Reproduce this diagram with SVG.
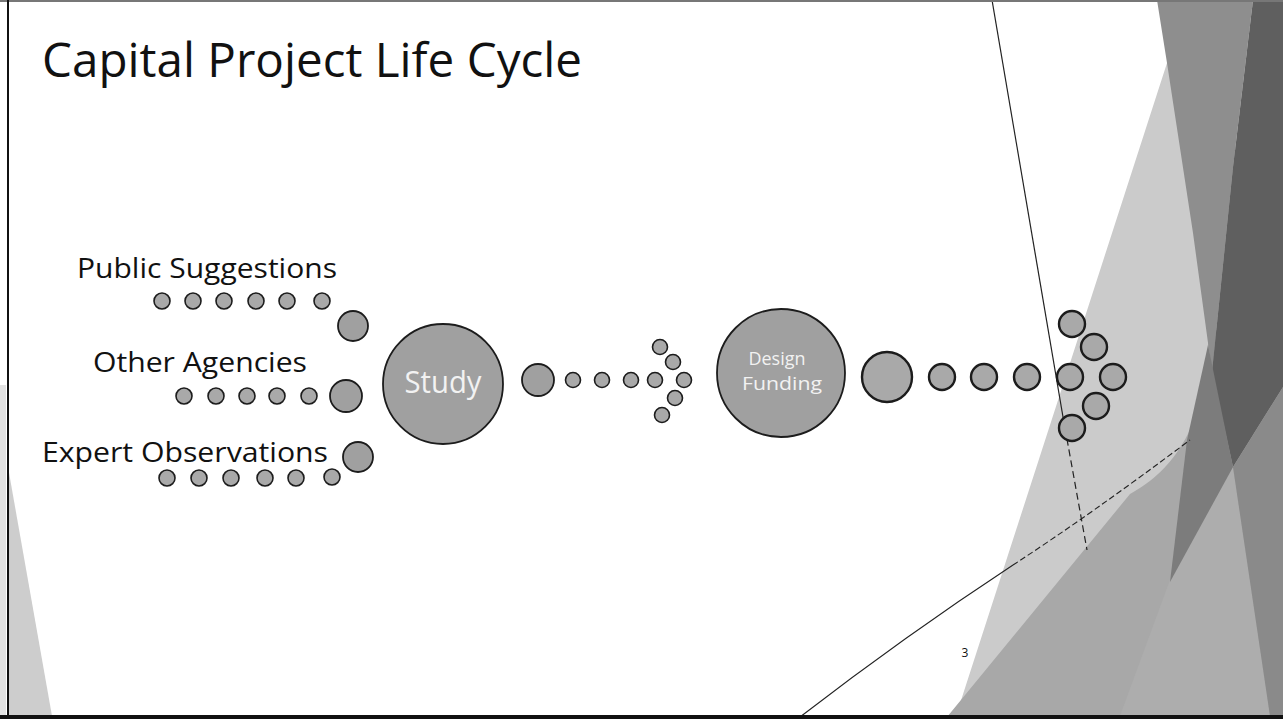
<svg xmlns="http://www.w3.org/2000/svg" width="1283" height="719" viewBox="0 0 1283 719">
  <defs>
    <style>
      .lbl { font-family: "Open Sans", "DejaVu Sans", sans-serif; fill: #111; }
      .dot { fill: #a9a9a9; stroke: #1c1c1c; stroke-width: 1.6; }
      .dotR { fill: #a9a9a9; stroke: #1c1c1c; stroke-width: 2.4; }
      .big { fill: #a0a0a0; stroke: #1c1c1c; stroke-width: 1.8; }
      .inner { font-family: "Open Sans", "DejaVu Sans", sans-serif; fill: #f2f2f2; text-anchor: middle; }
    </style>
  </defs>

  <rect x="0" y="0" width="1283" height="719" fill="#ffffff"/>

  <!-- background decoration -->
  <g id="background">
    <rect x="0" y="385" width="6" height="334" fill="#e2e2e2"/>
    <polygon points="8,467 52,716 8,716" fill="#cdcdcd"/>
    <!-- light facet -->
    <polygon points="1167,63 1235,63 1235,520 1120,520 955,719" fill="#cbcbcb"/>
    <!-- mid gray lower facet -->
    <path d="M947,717 L1130,494 C1175,470 1210,420 1208,330 L1283,330 L1283,717 Z" fill="#a8a8a8"/>
    <!-- lighter lower centre -->
    <polygon points="1170,580 1233,467 1270,716 1120,716" fill="#adadad"/>
    <!-- cross-hatched facet -->
    <polygon points="1157,0 1253,0 1233,167 1212,372 1193,233 1167,63" fill="#8e8e8e"/>
    <!-- darkest facet -->
    <polygon points="1253,0 1283,0 1283,387 1233,467 1212,372 1233,167" fill="#5f5f5f"/>
    <!-- wedge -->
    <polygon points="1208,345 1233,467 1170,582 1187,440" fill="#7c7c7c"/>
    <!-- right dense facet -->
    <polygon points="1283,387 1233,467 1270,716 1283,716" fill="#8a8a8a"/>
    <!-- thin lines -->
    <line x1="992" y1="0" x2="1063" y2="417" stroke="#222" stroke-width="1.2"/>
    <line x1="1063" y1="417" x2="1087" y2="550" stroke="#222" stroke-width="1.2" stroke-dasharray="7,4"/>
    <path d="M800,717 Q905,636 1013,565" fill="none" stroke="#222" stroke-width="1.1"/>
    <path d="M1013,565 Q1090,515 1190,440" fill="none" stroke="#222" stroke-width="1.1" stroke-dasharray="6,3"/>
  </g>

  <!-- frame -->
  <line x1="0" y1="1" x2="1283" y2="1" stroke="#777" stroke-width="2"/>
  <line x1="8" y1="0" x2="8" y2="719" stroke="#111" stroke-width="2"/>
  <line x1="0" y1="717" x2="1283" y2="717" stroke="#111" stroke-width="4"/>

  <!-- title -->
  <text x="42" y="77" class="lbl" font-size="47" textLength="540" lengthAdjust="spacingAndGlyphs">Capital Project Life Cycle</text>

  <!-- source labels -->
  <g id="node-public-suggestions">
    <text x="77" y="278" class="lbl" font-size="28" textLength="260" lengthAdjust="spacingAndGlyphs">Public Suggestions</text>
  </g>
  <g id="node-other-agencies">
    <text x="93" y="372" class="lbl" font-size="28" textLength="214" lengthAdjust="spacingAndGlyphs">Other Agencies</text>
  </g>
  <g id="node-expert-observations">
    <text x="42" y="462" class="lbl" font-size="28" textLength="286" lengthAdjust="spacingAndGlyphs">Expert Observations</text>
  </g>

  <!-- connectors: dot chains -->
  <g id="connectors">
    <g class="dot">
      <circle cx="162" cy="301" r="8"/>
      <circle cx="193" cy="301" r="8"/>
      <circle cx="224" cy="301" r="8"/>
      <circle cx="256" cy="301" r="8"/>
      <circle cx="287" cy="301" r="8"/>
      <circle cx="322" cy="301" r="8"/>
      <circle cx="184" cy="396" r="8"/>
      <circle cx="216" cy="396" r="8"/>
      <circle cx="247" cy="396" r="8"/>
      <circle cx="277" cy="396" r="8"/>
      <circle cx="309" cy="396" r="8"/>
      <circle cx="167" cy="478" r="8"/>
      <circle cx="199" cy="478" r="8"/>
      <circle cx="231" cy="478" r="8"/>
      <circle cx="265" cy="478" r="8"/>
      <circle cx="296" cy="478" r="8"/>
      <circle cx="332" cy="477" r="8"/>
    </g>
    <g class="big">
      <circle cx="353" cy="326" r="15"/>
      <circle cx="346" cy="396" r="16"/>
      <circle cx="358" cy="457" r="15"/>
      <circle cx="538" cy="380" r="16"/>
    </g>
    <g class="dot">
      <circle cx="573" cy="380" r="7.5"/>
      <circle cx="602" cy="380" r="7.5"/>
      <circle cx="631" cy="380" r="7.5"/>
      <circle cx="660" cy="347" r="7.5"/>
      <circle cx="673" cy="362" r="7.5"/>
      <circle cx="655" cy="380" r="7.5"/>
      <circle cx="684" cy="380" r="7.5"/>
      <circle cx="675" cy="398" r="7.5"/>
      <circle cx="662" cy="415" r="7.5"/>
    </g>
    <g class="dotR">
      <circle cx="887" cy="377" r="25"/>
      <circle cx="942" cy="377" r="13"/>
      <circle cx="984" cy="377" r="13"/>
      <circle cx="1027" cy="377" r="13"/>
      <circle cx="1072" cy="324" r="13"/>
      <circle cx="1094" cy="347" r="13"/>
      <circle cx="1070" cy="377" r="13"/>
      <circle cx="1113" cy="377" r="13"/>
      <circle cx="1096" cy="406" r="13"/>
      <circle cx="1072" cy="428" r="13"/>
    </g>
  </g>

  <!-- stage nodes -->
  <g id="node-study">
    <circle cx="443" cy="384" r="60" class="big"/>
    <text x="443" y="393" class="inner" font-size="31" textLength="77" lengthAdjust="spacingAndGlyphs">Study</text>
  </g>
  <g id="node-design-funding">
    <circle cx="781" cy="373" r="64" class="big"/>
    <text x="777" y="365" class="inner" font-size="18" textLength="57" lengthAdjust="spacingAndGlyphs">Design</text>
    <text x="782" y="390" class="inner" font-size="18" textLength="80" lengthAdjust="spacingAndGlyphs">Funding</text>
  </g>

  <!-- page number -->
  <text x="965" y="657" font-family="Open Sans, DejaVu Sans, sans-serif" font-size="12" fill="#111" text-anchor="middle">3</text>
</svg>
